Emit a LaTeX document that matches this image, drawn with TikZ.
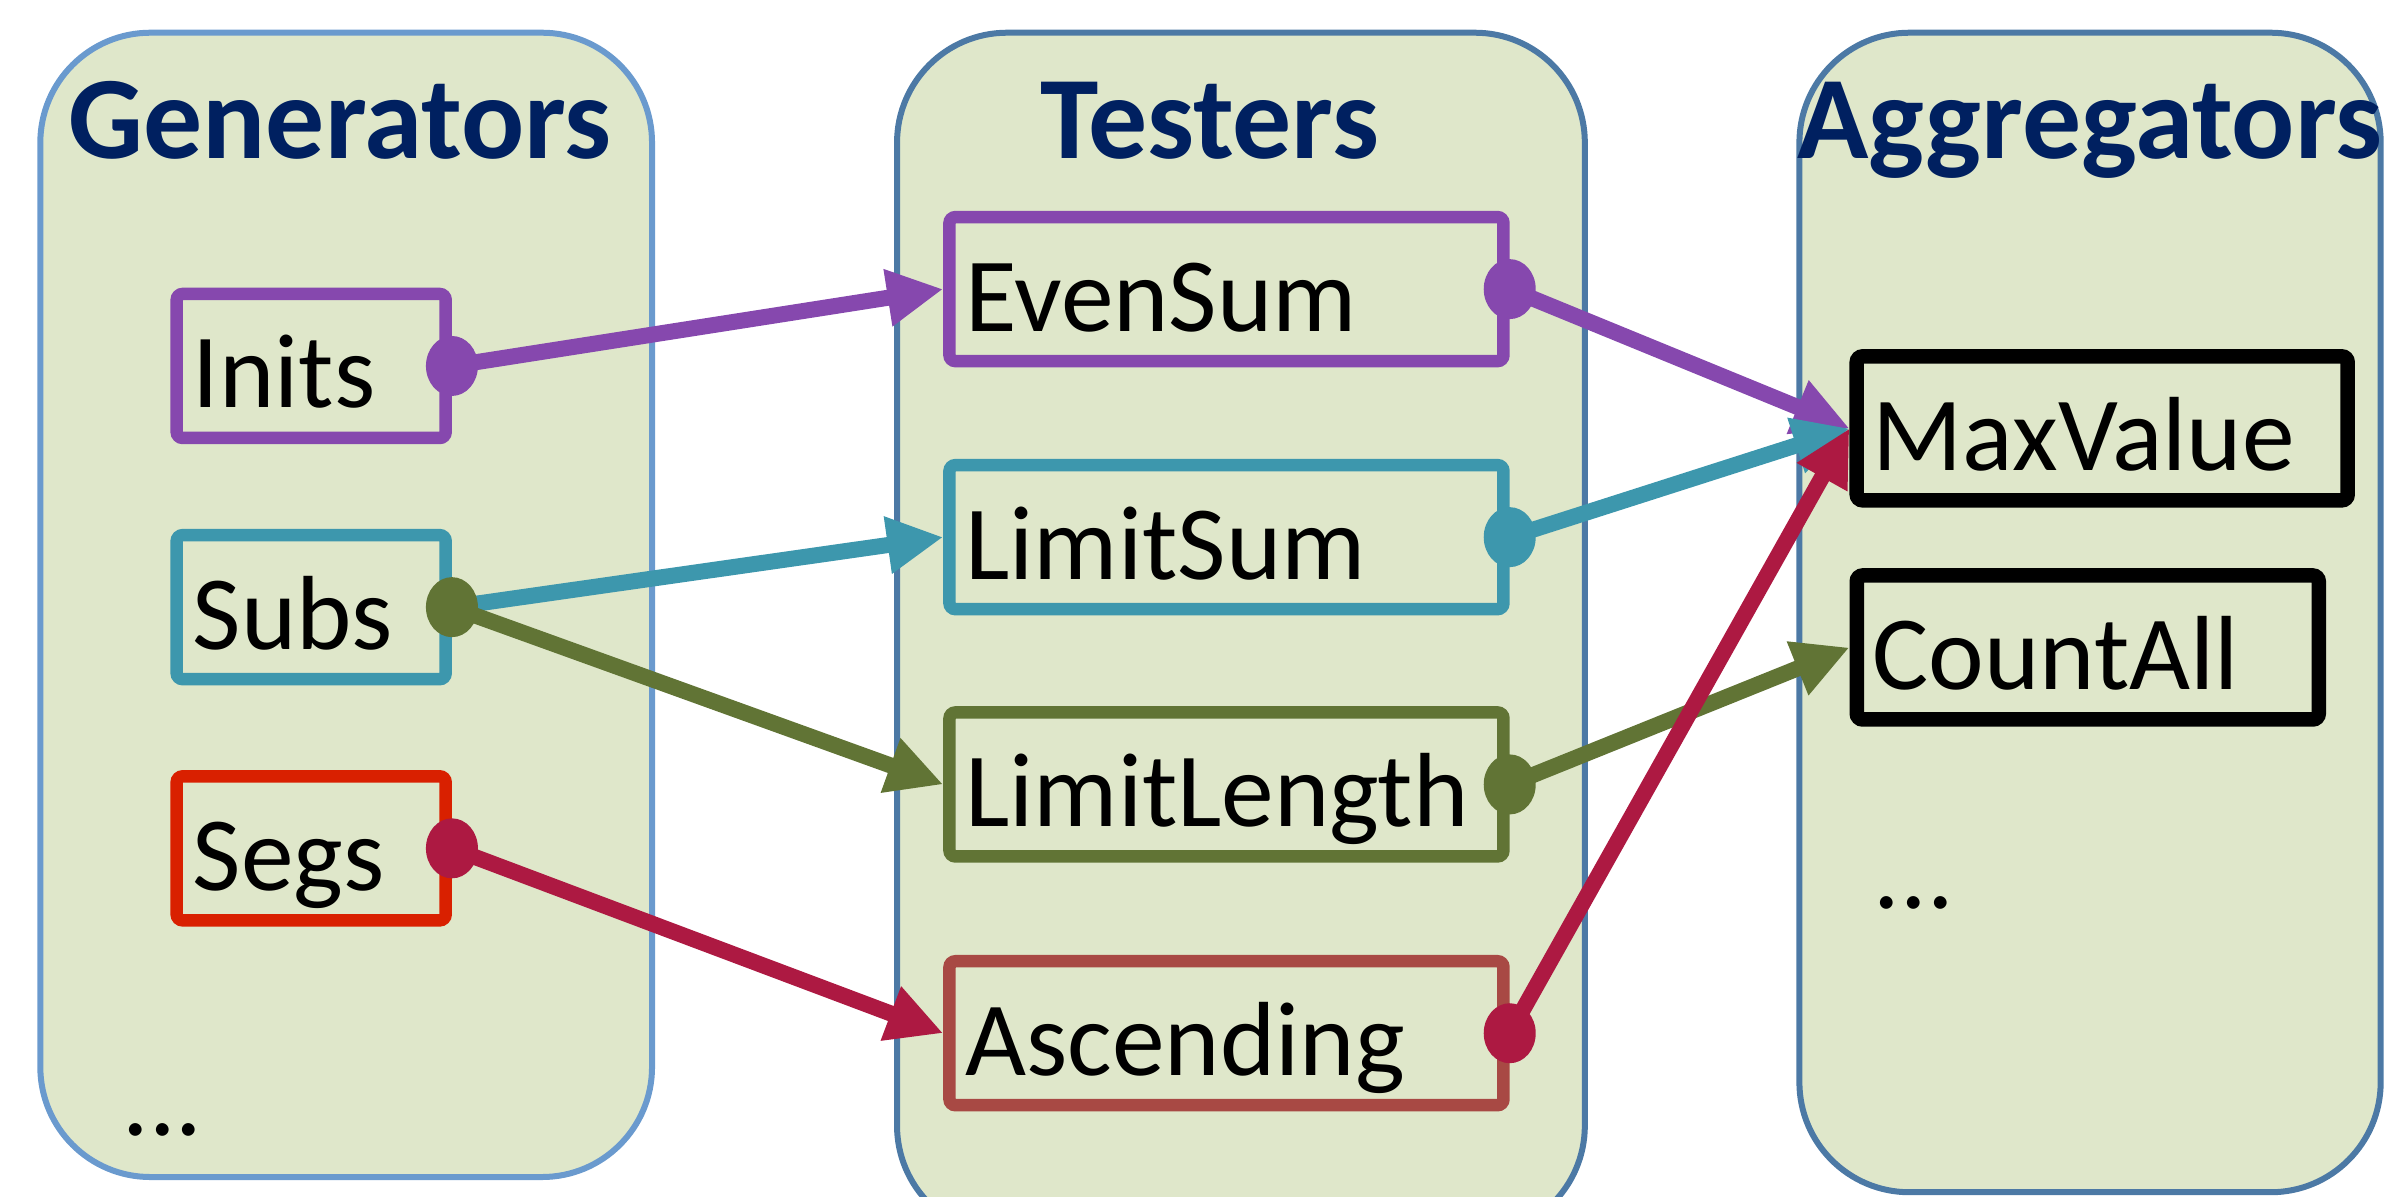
\documentclass[tikz,border=0pt]{standalone}
\usepackage{fontspec}
\setmainfont{Carlito}
\usetikzlibrary{arrows.meta,shapes.geometric}

\definecolor{panelfill}{HTML}{DFE7CA}
\definecolor{genedge}{HTML}{6A9ACE}
\definecolor{paneledge}{HTML}{4C79A5}
\definecolor{titlenavy}{HTML}{002060}
\definecolor{cpurple}{HTML}{8648AE}
\definecolor{cteal}{HTML}{3D97AD}
\definecolor{colive}{HTML}{617435}
\definecolor{ccrimson}{HTML}{AD1942}
\definecolor{cred}{HTML}{D92000}
\definecolor{cbrown}{HTML}{A84944}

\begin{document}
\begin{tikzpicture}[x=0.15217mm,y=-0.15217mm,
  panel/.style={fill=panelfill,line width=0.6mm,rounded corners=11mm},
  title/.style={anchor=base,text=titlenavy,font=\fontsize{33.5}{40}\bfseries\selectfont,inner sep=0pt},
  item/.style={draw=#1,fill=panelfill,line width=1.25mm,rounded corners=0.6mm,
    minimum height=14.4mm,inner xsep=1.6mm,inner ysep=0pt,align=left,
    text height=8.4mm,text depth=0pt,font=\fontsize{30}{36}\selectfont},
  genbox/.style={item=#1,text width=23.7mm},
  testbox/.style={item=#1,text width=52.2mm},
  aggbox/.style={item=black,line width=1.45mm,text width=#1},
  conn/.style={line width=1.6mm,-{Triangle[length=5.6mm,width=5.4mm]}},
  dotmark/.style={fill=#1},
  more/.style={anchor=base west,inner sep=0pt,font=\fontsize{30}{36}\selectfont}]

\useasboundingbox (0,0) rectangle (1568,786);

% the three column panels
\draw[panel,draw=genedge] (26.5,21.5) rectangle (428.5,773.5);
\draw[panel,draw=paneledge] (589.5,21.5) rectangle (1041.5,812);
\draw[panel,draw=paneledge] (1182.5,21.5) rectangle (1564.5,783.5);

% column titles
\node[title] (tgen) at (223.5,104) {Generators};
\node[title] (ttest) at (795,104) {Testers};
\node[title] (tagg) at (1373.5,104) {Aggregators};

% generators
\node[genbox=cpurple] (inits) at (204.5,240.5) {Inits};
\node[genbox=cteal] (subs) at (204.5,399) {Subs};
\node[genbox=cred] (segs) at (204.5,557.5) {Segs};
\node[more] (genmore) at (80,746) {...};

% testers
\node[testbox=cpurple] (evensum) at (806,190) {EvenSum};
\node[testbox=cteal] (limitsum) at (806,353) {LimitSum};
\node[testbox=colive] (limitlength) at (806,515.5) {LimitLength};
\node[testbox=cbrown] (ascending) at (806,679) {Ascending};

% aggregators
\node[aggbox=45.9mm] (maxvalue) at (1381.5,281.5) {MaxValue};
\node[aggbox=43mm] (countall) at (1372,425.5) {CountAll};
\node[more] (aggmore) at (1231,597) {...};

% connections, each starting from a dot on the source's right side
\draw[conn,cpurple] (inits.east) -- (evensum.west);
\fill[dotmark=cpurple] (inits.east) ellipse [x radius=2.6mm,y radius=3mm];
\draw[conn,cpurple] (evensum.east) -- (maxvalue.west);
\fill[dotmark=cpurple] (evensum.east) ellipse [x radius=2.6mm,y radius=3mm];

\draw[conn,cteal] (subs.east) -- (limitsum.west);
\draw[conn,cteal] (limitsum.east) -- (maxvalue.west);
\fill[dotmark=cteal] (limitsum.east) ellipse [x radius=2.6mm,y radius=3mm];

\draw[conn,colive] (subs.east) -- (limitlength.west);
\fill[dotmark=colive] (subs.east) ellipse [x radius=2.6mm,y radius=3mm];
\draw[conn,colive] (limitlength.east) -- (countall.west);
\fill[dotmark=colive] (limitlength.east) ellipse [x radius=2.6mm,y radius=3mm];

\draw[conn,ccrimson] (segs.east) -- (ascending.west);
\fill[dotmark=ccrimson] (segs.east) ellipse [x radius=2.6mm,y radius=3mm];
\draw[conn,ccrimson] (ascending.east) -- (maxvalue.west);
\fill[dotmark=ccrimson] (ascending.east) ellipse [x radius=2.6mm,y radius=3mm];

\end{tikzpicture}
\end{document}
